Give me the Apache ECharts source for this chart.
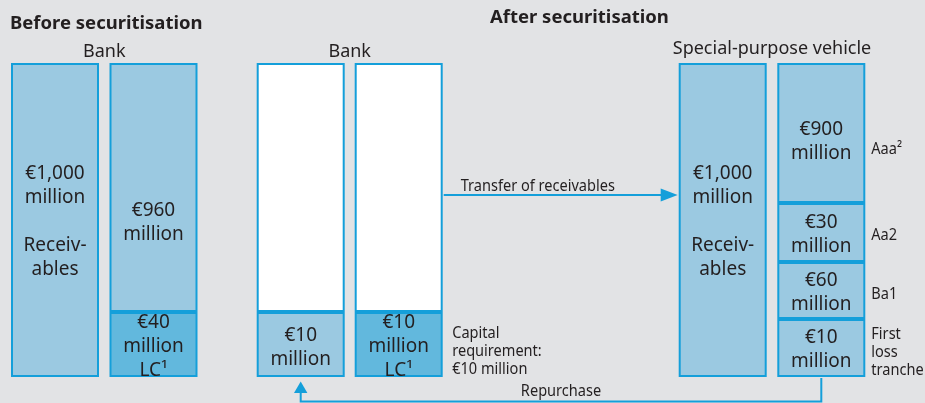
<!DOCTYPE html>
<html>
<head>
<meta charset="utf-8">
<script src="https://cdn.jsdelivr.net/npm/echarts@6/dist/echarts.min.js"></script>
<style>
    html, body { margin: 0; padding: 0; background: #e2e3e5; }
    #main { width: 925px; height: 403px; }
</style>
</head>
<body>
<div id="main"></div>
<script>
// The diagram is schematic, not to scale: heights are the drawn box sizes (bottom -> top)
const beforeAssets = [314];
const beforeLiabilities = [65, 249];
const afterBankAssets = [65, 249];
const afterBankLiabilities = [65, 249];
const spvAssets = [314];
const spvLiabilities = [58, 57, 59, 140];

// box texts, same order as the heights
const beforeAssetLabels = ['€1,000\nmillion\n\nReceiv-\nables'];
const beforeLiabilityLabels = ['€40\nmillion\nLC¹', '€960\nmillion'];
const afterBankAssetLabels = ['€10\nmillion', ''];
const afterBankLiabilityLabels = ['€10\nmillion\nLC¹', ''];
const spvAssetLabels = ['€1,000\nmillion\n\nReceiv-\nables'];
const spvLiabilityLabels = ['€10\nmillion', '€60\nmillion', '€30\nmillion', '€900\nmillion'];

const trancheRatings = ['First\nloss\ntranche', 'Ba1', 'Aa2', 'Aaa²'];
const groupNames = ['Bank', 'Bank', 'Special-purpose vehicle'];
const headers = ['Before securitisation', 'After securitisation'];
const capitalNote = 'Capital\nrequirement:\n€10 million';
const transferText = 'Transfer of receivables';
const repurchaseText = 'Repurchase';

// colours
const blue = '#149fda';
const fills = { light: '#9bc9e1', dark: '#62b8dd', white: '#ffffff' };
const textColor = '#231f20';
const mainFont = '"Noto Sans", sans-serif';

// columns of the diagram
const columns = [
    { heights: beforeAssets, labels: beforeAssetLabels, fill: ['light'], dy: [0] },
    { heights: beforeLiabilities, labels: beforeLiabilityLabels, fill: ['dark', 'light'], dy: [0, 33] },
    { heights: afterBankAssets, labels: afterBankAssetLabels, fill: ['light', 'white'], dy: [1, 0] },
    { heights: afterBankLiabilities, labels: afterBankLiabilityLabels, fill: ['dark', 'white'], dy: [0, 0] },
    { heights: spvAssets, labels: spvAssetLabels, fill: ['light'], dy: [0] },
    { heights: spvLiabilities, labels: spvLiabilityLabels, fill: ['light', 'light', 'light', 'light'], dy: [0, 0, 0, 7] }
]
const labelShift = 2

// three groups, two columns each
const groupGrids = [
    { left: 5.75, width: 197 },
    { left: 251.7, width: 196 },
    { left: 673.4, width: 197.2 }
]
const gridTop = 63
const gridHeight = 314
const yMax = 314
const barHalf = 45

const grid = groupGrids.map(g => ({ left: g.left, width: g.width, top: gridTop, height: gridHeight }))

const xAxis = groupGrids.map((g, i) => ({
    type: 'category',
    gridIndex: i,
    position: 'top',
    data: ['assets', 'liabilities'],
    axisLine: { show: false },
    axisTick: { show: false },
    axisLabel: { show: false },
    name: groupNames[i],
    nameLocation: 'middle',
    nameGap: i === 2 ? 5 : 2,
    nameTextStyle: { fontFamily: mainFont, fontSize: 18, color: textColor }
}))

const yAxis = groupGrids.map((g, i) => ({
    type: 'value', gridIndex: i, min: 0, max: yMax, show: false
}))

const series = []
groupGrids.forEach((g, gi) => {
    const cols = [columns[gi * 2], columns[gi * 2 + 1]]
    for (let k = 0; k < 4; k++) {
        series.push({
            type: 'bar',
            xAxisIndex: gi,
            yAxisIndex: gi,
            stack: 'group' + gi,
            barWidth: 88,
            silent: true,
            data: cols.map(c => {
                if (c.heights[k] == null) return '-'
                return {
                    value: c.heights[k],
                    itemStyle: { color: fills[c.fill[k]], borderColor: blue, borderWidth: 2 },
                    label: {
                        show: c.labels[k] !== '',
                        position: 'inside',
                        formatter: c.labels[k],
                        offset: [0, c.dy[k] + labelShift],
                        fontFamily: mainFont,
                        fontSize: 19,
                        lineHeight: 24,
                        color: textColor
                    }
                }
            })
        })
    }
})

const option = {
    backgroundColor: '#e2e3e5',
    animation: false,
    title: [
        { text: headers[0], left: 10, top: 14, padding: 0,
          textStyle: { fontFamily: mainFont, fontWeight: 'bold', fontSize: 18.5, color: textColor } },
        { text: headers[1], left: 490, top: 8, padding: 0,
          textStyle: { fontFamily: mainFont, fontWeight: 'bold', fontSize: 18.5, color: textColor } }
    ],
    grid: grid,
    xAxis: xAxis,
    yAxis: yAxis,
    series: series
}

const chart = echarts.init(document.getElementById('main'), null, { renderer: 'canvas' })
chart.setOption(option)

// pixel helper for a column (group, index in group) at a height value
function px(g, c, v) {
    return chart.convertToPixel({ xAxisIndex: g, yAxisIndex: g }, [c, v])
}

const transferLevel = 182
const returnLineY = 401.5
const small = { fontFamily: mainFont, fontSize: 16, fill: textColor }
const narrow = 0.91   // squeeze the small notes like a condensed face

function note(x, y, text, align, valign, extra) {
    return {
        type: 'text', x: x, y: y, scaleX: narrow,
        style: Object.assign({ text: text, align: align, verticalAlign: valign }, small, extra || {})
    }
}

const graphics = []

// transfer arrow: bank liabilities column -> SPV assets column
const tFrom = px(1, 1, transferLevel)
const tTo = px(2, 0, transferLevel)
const tx0 = tFrom[0] + barHalf
const tx1 = tTo[0] - barHalf
const ty = tFrom[1]
graphics.push({ type: 'polyline', shape: { points: [[tx0, ty], [tx1 - 14, ty]] }, style: { stroke: blue, lineWidth: 2, fill: null } })
graphics.push({ type: 'polygon', shape: { points: [[tx1, ty], [tx1 - 17, ty - 6.5], [tx1 - 17, ty + 6.5]] }, style: { fill: blue } })
graphics.push(note(tx0 + 17, ty - 1, transferText, 'left', 'bottom'))

// repurchase arrow: SPV first loss tranche -> bank assets
const rFrom = px(2, 1, 0)
const rTo = px(1, 0, 0)
graphics.push({ type: 'polyline', shape: { points: [[rFrom[0], rFrom[1] + 1], [rFrom[0], returnLineY], [rTo[0], returnLineY], [rTo[0], rTo[1] + 14]] }, style: { stroke: blue, lineWidth: 2, fill: null } })
graphics.push({ type: 'polygon', shape: { points: [[rTo[0], rTo[1] + 4.5], [rTo[0] - 6.7, rTo[1] + 16], [rTo[0] + 6.7, rTo[1] + 16]] }, style: { fill: blue } })
graphics.push(note((rFrom[0] + rTo[0]) / 2, returnLineY - 2, repurchaseText, 'center', 'bottom'))

// capital requirement note next to the bank LC box
const capMid = px(1, 1, afterBankLiabilities[0] / 2)
graphics.push(note(capMid[0] + barHalf + 8.5, capMid[1] + 7, capitalNote, 'left', 'middle', { lineHeight: 18 }))

// tranche ratings to the right of the SPV liabilities
const ratingDy = [4, 4, 3, 16]
let base = 0
spvLiabilities.forEach((h, k) => {
    const p = px(2, 1, base + h / 2)
    graphics.push(note(p[0] + barHalf + 5, p[1] + ratingDy[k], trancheRatings[k], 'left', 'middle', { lineHeight: 18 }))
    base += h
})

chart.setOption({ graphic: graphics })
</script>
</body>
</html>
